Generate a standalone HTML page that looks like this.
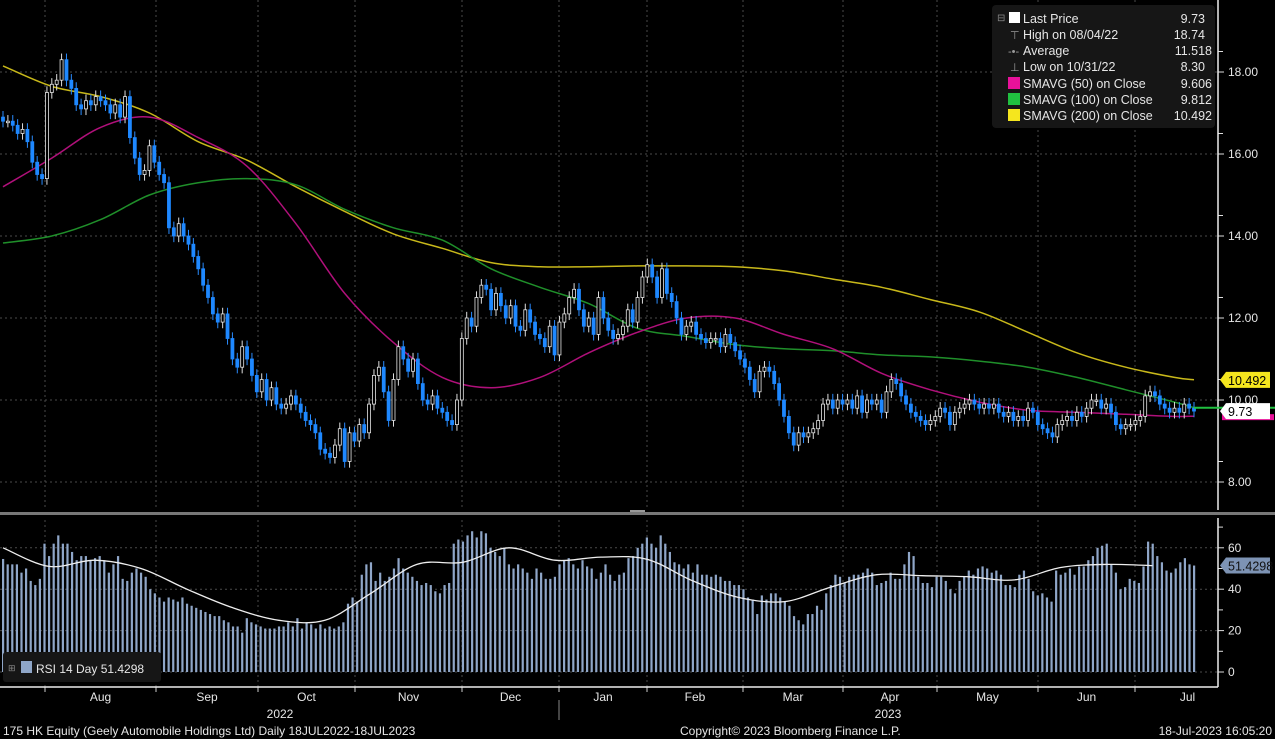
<!DOCTYPE html>
<html><head><meta charset="utf-8"><style>
html,body{margin:0;padding:0;background:#000;}
svg{display:block;font-family:"Liberation Sans",sans-serif;}
</style></head><body>
<svg id="chart" width="1275" height="739" viewBox="0 0 1275 739">
<rect x="0" y="0" width="1275" height="739" fill="#000"/>
<g id="grid"></g>
<g id="mas"></g>
<g id="candles"></g>
<g id="rsi"></g>
<g id="axes"></g>
<g>
<rect x="992" y="5" width="223" height="123" rx="4" fill="#161616"/>
<g font-size="12.5" fill="#e6e6e6">
<rect x="1009" y="12" width="11" height="11" fill="#fff"/>
<text x="1023" y="23">Last Price</text><text x="1205" y="23" text-anchor="end">9.73</text>
<text x="1010" y="39" fill="#999" font-size="11">⊤</text><text x="1023" y="39">High on 08/04/22</text><text x="1205" y="39" text-anchor="end">18.74</text>
<text x="1008" y="55" fill="#999" font-size="11">-•-</text><text x="1023" y="55">Average</text><text x="1212" y="55" text-anchor="end">11.518</text>
<text x="1010" y="71" fill="#999" font-size="11">⊥</text><text x="1023" y="71">Low on 10/31/22</text><text x="1205" y="71" text-anchor="end">8.30</text>
<rect x="1008" y="77" width="12" height="12" fill="#e8119a"/>
<text x="1023" y="88">SMAVG (50)  on Close</text><text x="1212" y="88" text-anchor="end">9.606</text>
<rect x="1008" y="93" width="12" height="12" fill="#20c040"/>
<text x="1023" y="104">SMAVG (100)  on Close</text><text x="1212" y="104" text-anchor="end">9.812</text>
<rect x="1008" y="109" width="12" height="12" fill="#f5e61e"/>
<text x="1023" y="120">SMAVG (200)  on Close</text><text x="1212" y="120" text-anchor="end">10.492</text>
</g>
<text x="997" y="21" font-size="10" fill="#888">⊟</text>
</g>
<g>
<rect x="3" y="652" width="158" height="30" rx="3" fill="#161616"/>
<rect x="21" y="661" width="11" height="12" fill="#8fa6c8"/>
<text x="8" y="671" font-size="9" fill="#888">⊞</text>
<text x="36" y="673" font-size="12" fill="#e6e6e6">RSI 14 Day 51.4298</text>
</g>
<g font-size="12" fill="#e6e6e6">
<text x="3" y="735">175 HK Equity (Geely Automobile Holdings Ltd)  Daily 18JUL2022-18JUL2023</text>
<text x="680" y="735">Copyright© 2023 Bloomberg Finance L.P.</text>
<text x="1272" y="735" text-anchor="end">18-Jul-2023 16:05:20</text>
</g>
</svg>
<script>
const closes=[16.8,16.8,16.7,16.5,16.6,16.3,15.8,
15.5,15.4,17.5,17.7,
17.8,18.3,17.8,17.6,17.2,
17.1,17.3,17.2,17.4,17.3,17.2,17.0,17.2,16.9,17.4,
16.4,15.9,15.5,15.6,16.2,15.8,15.5,15.3,
14.2,14.0,14.3,14.0,13.8,13.5,13.2,12.8,12.5,12.1,11.9,12.1,11.5,11.0,10.8,11.3,11.0,
10.6,10.2,10.5,10.0,10.3,9.9,9.8,9.9,10.1,9.9,
9.7,9.5,9.4,9.2,8.8,8.7,
8.6,8.9,9.3,8.5,9.2,9.0,9.4,9.2,
9.9,10.6,10.8,10.2,9.5,10.5,11.3,11.0,10.7,11.0,10.4,
10.0,9.9,10.1,9.8,9.7,9.5,9.4,10.0,
11.5,12.0,
11.8,12.5,12.8,12.7,12.2,12.6,12.3,12.0,12.3,11.8,11.7,12.2,11.9,11.6,11.5,11.3,11.8,11.1,11.9,12.1,
12.5,12.7,12.2,11.8,12.0,11.6,12.5,12.0,11.7,11.5,11.6,11.8,12.2,11.9,
12.5,13.0,13.3,13.0,12.5,13.2,12.6,12.4,
12.0,11.6,11.8,11.9,11.6,11.5,11.4,11.5,
11.5,11.3,11.6,11.4,11.2,11.0,10.8,
10.5,10.2,10.7,10.8,10.7,10.4,10.0,
9.6,9.2,8.9,9.2,9.1,9.2,9.3,9.5,
9.9,10.0,9.8,10.0,9.9,10.0,9.8,10.1,9.7,10.0,9.9,10.0,9.7,10.2,
10.5,10.4,
10.1,9.9,9.7,9.6,9.5,9.4,9.5,9.6,9.8,9.7,9.4,9.7,9.8,9.9,
10.0,9.9,9.8,9.9,9.8,9.9,9.7,9.6,9.7,9.5,9.6,9.5,9.8,9.7,9.4,9.3,
9.2,9.1,9.4,9.5,9.6,9.5,9.7,9.6,
9.8,10.0,10.0,9.8,9.9,9.7,9.4,9.3,
9.4,9.4,9.5,9.6,10.1,10.2,
10.1,9.9,9.8,9.7,9.8,9.7,9.9,9.8,9.73];
const sma50=[15.2,15.9,16.65,16.9,16.4,15.7,14.3,12.6,11.4,10.55,10.3,10.55,11.15,11.65,12.0,12.0,11.6,11.25,10.65,10.25,9.95,9.75,9.7,9.65,9.6,9.606];
const sma100=[13.83,14.0,14.4,15.0,15.3,15.4,15.25,14.65,14.2,13.9,13.2,12.75,12.35,11.75,11.55,11.35,11.25,11.2,11.1,11.05,10.95,10.8,10.55,10.25,9.95,9.812];
const sma200=[18.15,17.65,17.4,17.0,16.3,15.85,15.2,14.6,14.05,13.7,13.35,13.25,13.25,13.27,13.27,13.25,13.15,12.95,12.75,12.45,12.15,11.65,11.15,10.8,10.55,10.492];
const rsiValues=[54.6,52,52,52,48,50,44,42,45,62,56,62,66,62,62,58,54,56,56,54,55,56,54,48,52,56,45,44,48,50,48,46,40,38,36,34,36,35,34,36,33,32,31,30,29,28,27,27,25,24,22,22,19,26,24,23,22,21,21,21,22,22,24,22,26,21,24,23,21,23,21,22,21,22,24,33,36,34,47,52,53,44,48,44,46,50,55,50,48,46,44,42,43,42,39,38,42,43,62,64,63,66,68,65,68,67,60,58,56,60,52,50,52,50,48,45,50,48,45,45,46,52,54,55,52,50,54,51,50,45,48,52,47,44,47,48,55,56,60,62,65,62,60,66,62,58,53,52,50,52,48,52,47,47,46,47,46,44,44,42,42,40,36,35,28,37,35,38,38,36,34,32,27,25,23,28,28,32,30,38,42,47,46,43,46,47,47,48,50,48,42,43,44,48,45,45,52,58,56,46,43,43,41,46,46,44,40,38,44,46,49,47,50,51,50,48,49,47,42,42,41,47,49,45,39,37,38,36,34,49,47,48,50,47,51,51,54,56,60,61,62,52,48,40,41,45,44,43,51,63,62,56,53,49,48,50,53,55,52,51.43];
const rsiMA=[60,51,54,50,40,31,25,25,38,52,53,60,54,55.5,54.5,44,36,34,41,47,46.5,46,44.5,50.5,52,51.4];
const priceTicks=["8.00","10.00","12.00","14.00","16.00","18.00"];
const rsiTicks=["0","20","40","60"];
const months=["Aug","Sep","Oct","Nov","Dec","Jan","Feb","Mar","Apr","May","Jun","Jul"];

const NS="http://www.w3.org/2000/svg";
const X0=3,X1=1194,AX=1218;
const py=p=>72+(18-p)*41.0;
const ry=v=>672-v*2.07;
const cx=(i,n)=>X0+i*(X1-X0)/(n-1);
function mk(tag,attrs,parent){const e=document.createElementNS(NS,tag);for(const k in attrs)e.setAttribute(k,attrs[k]);parent.appendChild(e);return e;}
function smooth(pts){
 let d='M'+pts[0][0].toFixed(1)+','+pts[0][1].toFixed(1);
 for(let i=0;i<pts.length-1;i++){
  const p0=pts[Math.max(0,i-1)],p1=pts[i],p2=pts[i+1],p3=pts[Math.min(pts.length-1,i+2)];
  const c1=[p1[0]+(p2[0]-p0[0])/6,p1[1]+(p2[1]-p0[1])/6];
  const c2=[p2[0]-(p3[0]-p1[0])/6,p2[1]-(p3[1]-p1[1])/6];
  d+=' C'+c1[0].toFixed(1)+','+c1[1].toFixed(1)+' '+c2[0].toFixed(1)+','+c2[1].toFixed(1)+' '+p2[0].toFixed(1)+','+p2[1].toFixed(1);
 }
 return d;
}
const grid=document.getElementById('grid'),axes=document.getElementById('axes');
const vlines=[45,156,258,355,462,559,647,743,843,937,1038,1135];
vlines.forEach(x=>{
 const a=mk('line',{x1:x,y1:0,x2:x,y2:510,stroke:'#4a4a4a','stroke-dasharray':'2,3'},grid);
 
 
 const b=mk('line',{x1:x,y1:520,x2:x,y2:687,stroke:'#4a4a4a','stroke-dasharray':'2,3'},grid);
 
 
 mk('line',{x1:x,y1:687,x2:x,y2:692,stroke:'#ccc'},axes);
});
priceTicks.forEach(t=>{
 const y=py(parseFloat(t));
 const g=mk('line',{x1:0,y1:y,x2:AX,y2:y,stroke:'#4a4a4a','stroke-dasharray':'2,3'},grid);
 
 
 mk('line',{x1:AX,y1:y,x2:AX+6,y2:y,stroke:'#ddd'},axes);
 mk('line',{x1:AX,y1:y-20.5,x2:AX+5,y2:y-20.5,stroke:'#ddd'},axes);
 const tx=mk('text',{x:AX+10,y:y+4,'font-size':12,fill:'#e6e6e6'},axes);tx.textContent=t;
 
 
});
rsiTicks.forEach(t=>{
 const y=ry(parseFloat(t));
 const g=mk('line',{x1:0,y1:y,x2:AX,y2:y,stroke:'#4a4a4a','stroke-dasharray':'2,3'},grid);
 
 
 mk('line',{x1:AX,y1:y,x2:AX+6,y2:y,stroke:'#ddd'},axes);
 mk('line',{x1:AX,y1:y-20.7,x2:AX+5,y2:y-20.7,stroke:'#ddd'},axes);
 const tx=mk('text',{x:AX+10,y:y+4,'font-size':12,fill:'#e6e6e6'},axes);tx.textContent=t;
 
 
});
mk('line',{x1:AX,y1:0,x2:AX,y2:510,stroke:'#eee','stroke-width':1.5},axes);
mk('line',{x1:AX,y1:518,x2:AX,y2:687,stroke:'#eee','stroke-width':1.5},axes);
mk('line',{x1:0,y1:687,x2:AX,y2:687,stroke:'#eee','stroke-width':1.5},axes);
mk('rect',{x:0,y:512,width:1275,height:3,fill:'#777'},axes);
mk('rect',{x:630,y:510,width:15,height:2,fill:'#999'},axes);
mk('line',{x1:559,y1:700,x2:559,y2:720,stroke:'#888'},axes);
months.forEach((m,i)=>{
 const left=vlines[i], right=i<vlines.length-1?vlines[i+1]:1240;
 const tx=mk('text',{x:(left+right)/2,y:701,'font-size':12,fill:'#e6e6e6','text-anchor':'middle'},axes);tx.textContent=m;
 
 
});
[["2022",280],["2023",888]].forEach(([t,x])=>{
 const tx=mk('text',{x:x,y:718,'font-size':12,fill:'#e6e6e6','text-anchor':'middle'},axes);tx.textContent=t;
 
 
});
const mas=document.getElementById('mas');
[[sma200,'#c8b81a','sma200-line'],[sma100,'#1f8f2a','sma100-line'],[sma50,'#b0107a','sma50-line']].forEach(([arr,col,name])=>{
 const n=closes.length;
 const pts=arr.map((v,i)=>[cx(Math.min(i*10,n-1),n),py(v)]);
 const pl=mk('path',{d:smooth(pts),fill:'none',stroke:col,'stroke-width':1.5},mas);
 
 
});
const cg=document.getElementById('candles');
closes.forEach((c,i)=>{
 const n=closes.length,x=cx(i,n);
 const o=i>0?closes[i-1]:c+0.1;
 const up=c>=o;
 const hi=Math.max(o,c)+0.15,lo=Math.min(o,c)-0.15;
 const w=mk('line',{x1:x,y1:py(hi),x2:x,y2:py(lo),stroke:up?'#ddd':'#2a8cff','stroke-width':1},cg);
 
 
 const top=py(Math.max(o,c)),h=Math.max(1.5,py(Math.min(o,c))-top);
 const b=mk('rect',{x:x-1.5,y:top,width:3,height:h,fill:up?'#000':'#1e88ff',stroke:up?'#e6e6e6':'#1e88ff','stroke-width':0.8},cg);
 
 
});
const rg=document.getElementById('rsi');
rsiValues.forEach((v,i)=>{
 const x=cx(i,rsiValues.length);
 const r=mk('rect',{x:x-1,y:ry(v),width:2.2,height:672-ry(v),fill:'#8fa6c8'},rg);
 
 
});
{
 const n=rsiValues.length;
 const pts=rsiMA.map((v,i)=>[cx(Math.min(i*10,n-1),n),ry(v)]);
 const pl=mk('path',{d:smooth(pts),fill:'none',stroke:'#eee','stroke-width':1.3},rg);
 
 
}
function tag(y,txt,bg,fg,name){
 const g=mk('g',{},axes);
 
 
 mk('polygon',{points:`${AX+2},${y} ${AX+8},${y-8} ${1270},${y-8} ${1270},${y+8} ${AX+8},${y+8}`,fill:bg},g);
 const t=mk('text',{x:AX+10,y:y+5,'font-size':12.5,fill:fg},g);t.textContent=txt;
}
mk('line',{x1:1194,y1:py(9.812),x2:1275,y2:py(9.812),stroke:'#20c040','stroke-width':2},axes);
mk('rect',{x:AX+4,y:py(9.606)-2,width:52,height:6,fill:'#e8119a'},axes);
tag(py(10.492),'10.492','#f5e61e','#000','sma200-value-tag');
tag(py(9.73),'9.73','#fff','#000','last-price-tag');
tag(ry(51.43),'51.4298','#7d93b4','#111','rsi-value-tag');
</script>
</body></html>
